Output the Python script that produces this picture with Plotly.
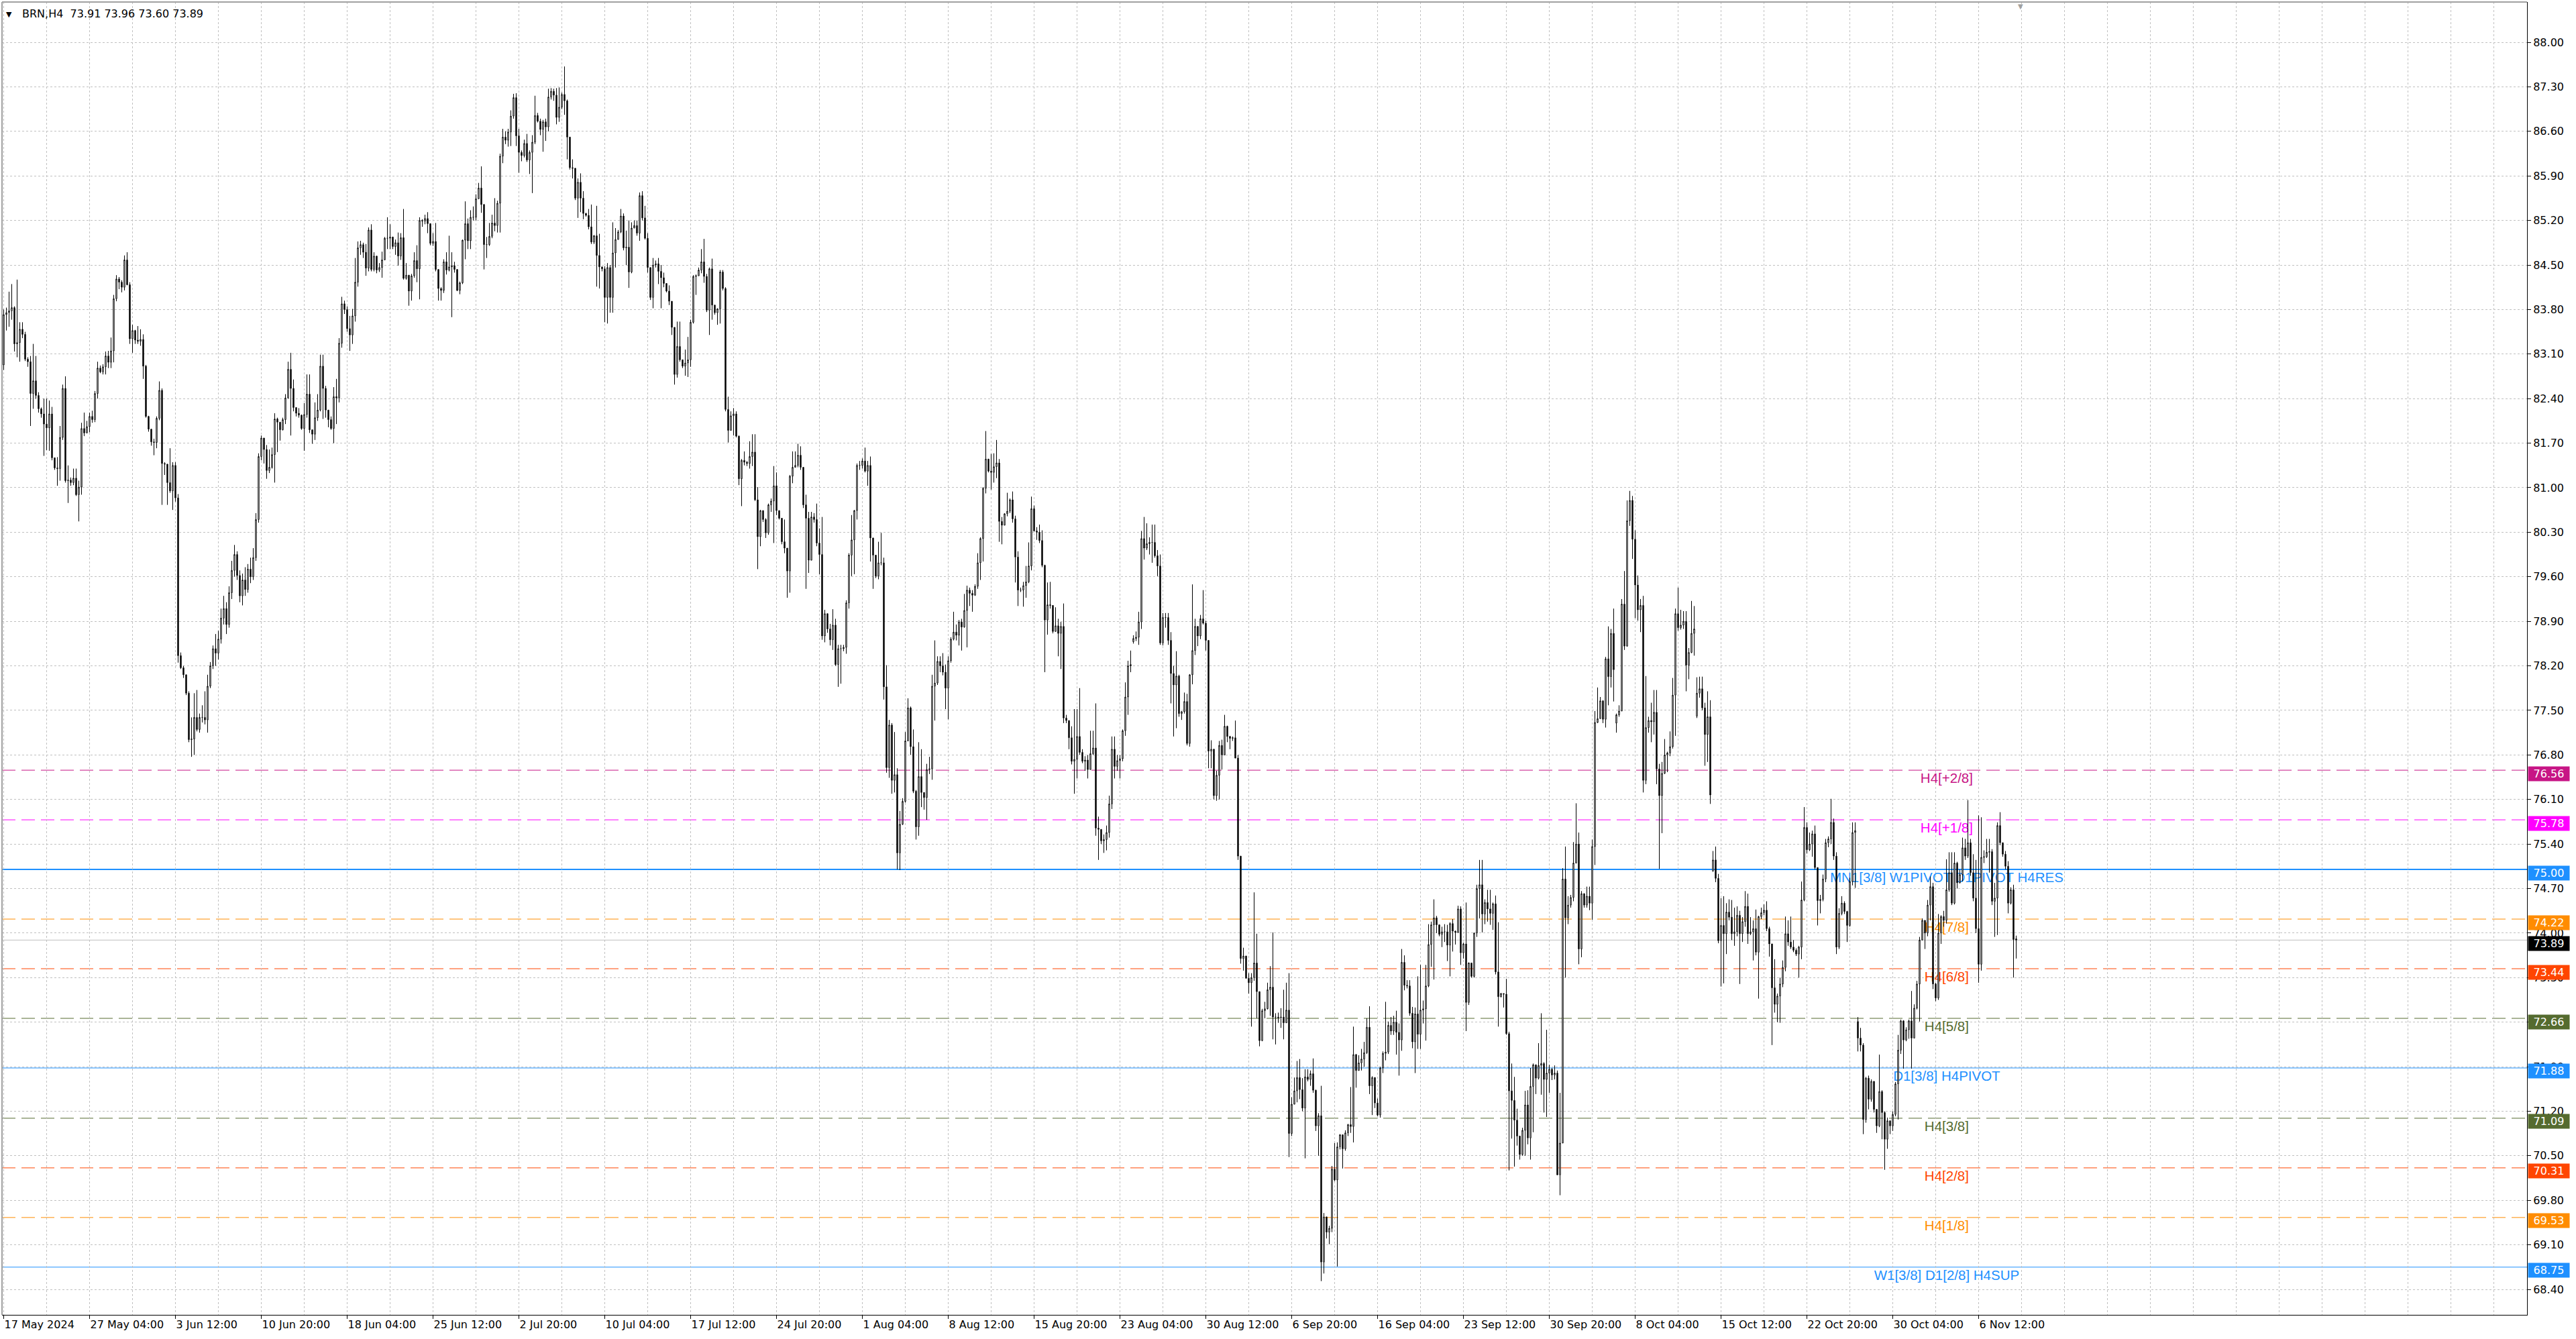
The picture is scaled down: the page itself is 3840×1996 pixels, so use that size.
import plotly.graph_objects as go

# ---------------- data (BRN H4) ----------------
symbol = "BRN,H4"
first_open = 82.93
gap_opens = {421: 78.58, 601: 77.30, 631: 77.41, 637: 74.98, 691: 72.61, 750: 73.91}

closes = [
    83.72, 83.75, 83.78, 83.83, 83.26, 83.28, 83.49, 83.41, 83.02, 82.98,
    82.48, 82.68, 82.45, 82.24, 82.16, 82.00, 81.94, 82.16, 81.47, 81.31,
    81.30, 81.79, 82.56, 81.11, 81.12, 81.08, 81.15, 80.89, 81.01, 81.93,
    81.86, 81.96, 82.12, 82.07, 82.48, 82.88, 82.82, 82.90, 83.07, 82.97,
    83.15, 83.97, 84.28, 84.23, 84.15, 84.58, 84.19, 83.34, 83.47, 83.32,
    83.30, 83.33, 82.91, 82.12, 81.92, 81.72, 81.71, 82.09, 82.53, 81.38,
    81.37, 81.08, 80.95, 81.35, 80.84, 78.36, 78.17, 78.06, 77.77, 77.04,
    77.05, 77.39, 77.20, 77.39, 77.39, 77.35, 77.88, 78.20, 78.47, 78.40,
    78.62, 78.95, 79.10, 78.85, 79.35, 79.70, 79.95, 79.62, 79.30, 79.55,
    79.40, 79.72, 79.60, 79.90, 80.50, 81.49, 81.78, 81.60, 81.27, 81.32,
    81.52, 82.08, 82.03, 81.91, 82.07, 82.41, 82.86, 82.56, 82.26, 82.17,
    82.14, 81.93, 82.15, 82.47, 81.91, 81.84, 82.10, 82.22, 82.91, 82.56,
    82.22, 82.07, 81.93, 82.43, 82.41, 83.27, 83.89, 83.80, 83.50, 83.40,
    83.70, 84.23, 84.77, 84.82, 84.70, 84.45, 85.05, 84.43, 84.64, 84.42,
    84.46, 84.58, 84.92, 84.92, 84.94, 84.79, 84.85, 84.64, 84.93, 84.29,
    84.34, 84.09, 84.33, 84.57, 84.44, 85.20, 85.19, 85.23, 85.15, 84.84,
    84.87, 84.43, 84.13, 84.10, 84.55, 84.42, 84.47, 84.49, 84.43, 84.10,
    84.22, 84.89, 85.15, 84.88, 85.25, 85.25, 85.54, 85.71, 85.45, 84.82,
    84.82, 84.95, 85.16, 85.12, 85.47, 86.21, 86.51, 86.46, 86.59, 86.84,
    87.13, 86.53, 86.27, 86.22, 86.41, 86.15, 86.27, 86.43, 86.85, 86.76,
    86.63, 86.75, 86.67, 87.14, 87.23, 87.17, 86.82, 86.98, 87.18, 87.08,
    86.51, 86.03, 86.02, 85.55, 85.80, 85.55, 85.31, 85.28, 85.10, 84.86,
    84.96, 84.65, 84.47, 84.44, 83.99, 84.46, 83.99, 84.69, 84.90, 85.02,
    85.27, 84.77, 84.78, 84.39, 85.08, 85.12, 85.00, 85.59, 85.24, 84.92,
    84.46, 83.99, 84.50, 84.52, 84.40, 84.30, 84.21, 84.09, 83.93, 83.52,
    82.78, 83.22, 83.01, 82.91, 82.96, 83.01, 83.60, 84.32, 84.33, 84.42,
    84.55, 84.32, 83.79, 84.44, 83.87, 83.75, 83.81, 84.39, 84.13, 82.23,
    81.90, 82.13, 82.16, 81.81, 81.14, 81.43, 81.40, 81.38, 81.49, 81.56,
    80.81, 80.23, 80.64, 80.50, 80.29, 80.73, 80.79, 81.03, 80.64, 80.52,
    80.15, 80.05, 79.69, 81.18, 81.32, 81.35, 81.51, 81.32, 80.73, 80.52,
    79.86, 80.54, 80.50, 80.13, 79.95, 78.67, 79.02, 78.78, 78.61, 78.84,
    78.22, 78.47, 78.47, 78.49, 79.19, 79.94, 80.18, 80.64, 81.35, 81.35,
    81.42, 81.26, 81.35, 80.21, 79.94, 79.61, 79.82, 79.82, 77.87, 76.60,
    77.27, 76.40, 76.49, 75.26, 75.71, 76.07, 77.02, 77.54, 76.93, 76.23,
    75.67, 76.46, 76.21, 76.13, 76.57, 76.58, 77.88, 77.93, 78.27, 78.20,
    78.10, 77.85, 78.28, 78.62, 78.73, 78.68, 78.89, 78.81, 79.07, 79.39,
    79.34, 79.31, 79.45, 79.82, 80.20, 80.99, 81.45, 81.26, 81.24, 81.33,
    81.39, 80.47, 80.41, 80.59, 80.63, 80.81, 80.51, 79.91, 79.39, 79.39,
    79.46, 79.52, 79.77, 80.67, 80.32, 80.30, 80.17, 79.78, 78.92, 79.16,
    79.15, 78.74, 78.83, 78.71, 78.82, 77.38, 77.34, 77.07, 76.70, 76.73,
    77.09, 76.84, 76.70, 76.72, 76.57, 76.82, 76.91, 75.65, 75.63, 75.45,
    75.47, 75.58, 76.03, 76.89, 76.62, 76.71, 76.74, 77.18, 77.71, 78.20,
    78.22, 78.63, 78.65, 78.89, 80.20, 80.05, 80.12, 80.14, 80.14, 79.93,
    79.77, 78.56, 78.96, 78.96, 78.60, 78.08, 77.90, 78.04, 77.45, 77.48,
    77.64, 76.98, 78.06, 78.44, 78.82, 78.67, 78.94, 78.87, 78.60, 76.86,
    76.89, 76.16, 76.48, 76.95, 76.80, 77.25, 77.09, 77.06, 77.07, 76.75,
    75.21, 73.60, 73.64, 73.29, 73.22, 73.30, 73.53, 73.08, 72.31, 72.78,
    72.81, 73.11, 73.15, 72.68, 72.68, 72.67, 72.68, 72.59, 72.79, 70.85,
    71.31, 71.52, 71.73, 71.54, 71.25, 71.74, 71.70, 71.79, 71.53, 70.97,
    71.13, 68.83, 69.54, 69.30, 69.36, 70.29, 70.12, 70.64, 70.83, 70.61,
    70.86, 70.99, 70.96, 72.09, 71.84, 71.96, 72.02, 72.12, 72.52, 71.60,
    71.73, 71.33, 71.14, 71.88, 72.11, 72.13, 72.55, 72.46, 72.60, 72.44,
    72.32, 73.54, 73.18, 73.17, 72.74, 72.29, 72.73, 72.41, 72.79, 72.81,
    73.17, 73.82, 74.13, 74.24, 74.13, 73.98, 74.02, 74.02, 73.81, 74.15,
    74.03, 74.01, 74.38, 73.69, 73.83, 72.91, 73.53, 73.32, 74.00, 74.70,
    74.76, 74.30, 74.48, 74.38, 74.31, 74.46, 73.39, 73.00, 73.05, 73.04,
    72.42, 71.52, 71.37, 71.06, 70.81, 70.52, 70.90, 71.30, 70.78, 71.59,
    71.93, 71.72, 71.92, 71.95, 71.70, 71.80, 71.86, 71.77, 71.80, 70.20,
    70.70, 74.85, 74.24, 74.44, 74.56, 75.10, 75.40, 73.75, 74.62, 74.44,
    74.58, 74.47, 75.36, 77.31, 77.37, 77.65, 77.36, 78.31, 78.03, 78.71,
    78.14, 77.43, 77.49, 79.17, 78.51, 80.48, 80.80, 80.19, 79.47, 79.08,
    79.15, 76.40, 77.23, 77.34, 77.32, 77.47, 76.58, 76.16, 76.51, 76.80,
    76.83, 76.93, 77.74, 79.02, 78.80, 78.84, 78.90, 78.21, 78.41, 78.71,
    78.78, 77.77, 77.84, 77.54, 77.12, 77.40, 76.17, 75.15, 74.86, 73.88,
    74.12, 73.99, 74.33, 74.25, 73.99, 74.02, 74.28, 73.99, 74.18, 74.42,
    73.99, 74.02, 74.07, 73.70, 74.26, 74.32, 74.36, 74.07, 73.83, 73.14,
    72.88, 73.01, 73.20, 73.46, 73.99, 73.86, 73.78, 73.73, 73.67, 73.78,
    74.52, 75.66, 75.31, 75.40, 75.56, 75.03, 74.51, 74.53, 74.85, 75.42,
    75.48, 75.74, 75.21, 73.78, 74.31, 74.47, 74.34, 74.12, 74.81, 75.58,
    75.61, 72.35, 72.24, 71.07, 71.72, 71.39, 71.67, 71.23, 70.97, 71.51,
    71.18, 70.76, 71.05, 70.97, 71.15, 71.63, 72.16, 72.62, 72.32, 72.48,
    72.62, 72.35, 72.82, 73.20, 73.89, 74.20, 74.00, 74.44, 74.73, 73.20,
    72.98, 74.00, 74.26, 74.20, 74.68, 74.95, 74.47, 75.10, 74.79, 74.92,
    75.34, 75.21, 75.42, 74.95, 74.55, 74.07, 73.51, 75.19, 75.20, 75.27,
    75.28, 74.50, 74.55, 75.69, 75.42, 75.24, 75.05, 74.47, 74.68, 73.90,
    73.89,
]

highs = [
    83.80, 83.83, 84.08, 84.20, 83.85, 84.27, 83.60, 83.60, 83.45, 83.05,
    83.07, 83.26, 83.07, 82.50, 82.26, 82.40, 82.40, 82.37, 82.27, 81.45,
    81.48, 81.97, 82.62, 82.75, 81.35, 81.16, 81.30, 81.30, 81.11, 82.02,
    82.18, 82.05, 82.18, 82.21, 82.52, 82.98, 82.92, 82.94, 83.14, 83.15,
    83.36, 84.03, 84.34, 84.31, 84.26, 84.65, 84.70, 84.23, 83.56, 83.48,
    83.54, 83.49, 83.41, 82.93, 82.13, 81.78, 81.77, 82.12, 82.67, 82.56,
    81.40, 81.11, 81.62, 81.40, 81.40, 80.90, 78.41, 78.20, 78.04, 77.80,
    77.39, 77.77, 77.82, 77.45, 77.58, 77.80, 78.06, 78.26, 78.52, 78.70,
    78.75, 79.10, 79.30, 79.20, 79.45, 79.85, 80.10, 80.00, 79.70, 79.65,
    79.75, 79.80, 79.90, 80.05, 80.60, 81.54, 81.82, 81.75, 81.67, 81.60,
    81.63, 82.17, 82.10, 81.96, 82.10, 82.47, 82.98, 83.12, 82.70, 82.25,
    82.25, 82.15, 82.33, 82.78, 82.78, 81.90, 82.34, 82.47, 83.09, 83.09,
    82.60, 82.15, 82.12, 82.58, 82.71, 83.35, 84.00, 83.94, 83.85, 83.70,
    83.81, 84.61, 84.87, 84.88, 84.85, 84.83, 85.09, 85.14, 84.70, 84.57,
    84.53, 84.71, 84.94, 85.25, 85.14, 84.88, 84.90, 85.01, 85.00, 85.38,
    84.53, 84.13, 84.36, 84.70, 84.81, 85.25, 85.22, 85.29, 85.33, 85.15,
    85.00, 85.16, 84.43, 84.15, 84.59, 84.70, 84.96, 84.70, 84.55, 84.18,
    84.24, 84.90, 85.50, 85.23, 85.36, 85.42, 85.61, 85.79, 86.05, 85.46,
    84.94, 85.16, 85.29, 85.55, 85.51, 86.25, 86.64, 86.60, 86.64, 86.93,
    87.19, 87.20, 86.64, 86.30, 86.47, 86.56, 86.30, 86.54, 87.16, 86.89,
    86.80, 86.78, 86.80, 87.27, 87.28, 87.27, 87.28, 87.29, 87.21, 87.62,
    87.10, 86.37, 86.16, 86.02, 85.86, 85.94, 85.66, 85.32, 85.38, 85.45,
    84.97, 85.43, 84.99, 84.47, 84.48, 84.53, 84.50, 85.17, 85.08, 85.05,
    85.38, 85.31, 85.04, 85.20, 85.17, 85.20, 85.20, 85.64, 85.66, 85.43,
    85.00, 84.44, 84.61, 84.57, 84.61, 84.50, 84.38, 84.13, 84.18, 83.91,
    83.51, 83.61, 83.61, 83.01, 83.17, 83.37, 83.64, 84.34, 84.35, 84.46,
    84.75, 84.91, 84.36, 84.46, 84.60, 83.84, 83.82, 84.42, 84.42, 84.15,
    82.43, 82.20, 82.25, 82.20, 81.82, 81.45, 81.57, 81.42, 81.73, 81.84,
    81.84, 81.01, 80.65, 80.55, 80.52, 80.75, 80.83, 81.34, 81.24, 80.64,
    80.52, 80.50, 80.05, 81.20, 81.57, 81.57, 81.69, 81.65, 81.30, 80.89,
    80.62, 80.62, 80.60, 80.75, 80.36, 80.54, 79.08, 78.85, 78.86, 79.09,
    78.94, 78.53, 78.53, 78.53, 79.23, 79.97, 80.57, 80.65, 81.38, 81.42,
    81.46, 81.63, 81.42, 81.49, 80.20, 79.80, 80.15, 80.29, 79.90, 78.21,
    77.35, 77.30, 77.16, 76.59, 75.92, 76.12, 77.16, 77.69, 77.56, 77.20,
    76.25, 77.00, 76.89, 76.21, 76.66, 76.77, 78.06, 78.60, 78.35, 78.35,
    78.40, 78.22, 78.35, 78.65, 79.05, 78.85, 78.92, 78.94, 79.33, 79.46,
    79.43, 79.39, 79.48, 79.97, 80.22, 81.01, 81.89, 81.39, 81.53, 81.54,
    81.75, 81.45, 80.54, 80.60, 80.92, 80.83, 80.94, 80.56, 80.00, 79.43,
    79.52, 79.77, 80.14, 80.86, 80.72, 80.38, 80.42, 80.33, 79.79, 79.51,
    79.52, 78.91, 79.12, 78.94, 78.89, 79.18, 77.43, 77.34, 77.25, 77.52,
    77.52, 77.85, 76.89, 76.78, 76.80, 77.18, 77.18, 77.61, 75.83, 75.60,
    75.55, 75.69, 76.16, 77.09, 77.09, 76.80, 76.80, 77.20, 77.94, 78.28,
    78.44, 78.68, 78.74, 79.05, 80.32, 80.54, 80.44, 80.22, 80.42, 80.42,
    80.02, 79.95, 79.03, 79.03, 79.03, 78.73, 78.20, 78.43, 78.06, 77.49,
    77.78, 77.76, 78.07, 79.48, 78.94, 78.82, 79.00, 79.39, 78.91, 78.60,
    77.03, 76.89, 76.55, 77.02, 77.04, 77.43, 77.26, 77.10, 77.09, 77.34,
    76.80, 75.20, 73.77, 73.60, 73.37, 73.37, 74.64, 73.99, 73.08, 72.81,
    72.92, 73.22, 73.48, 74.01, 72.74, 72.75, 72.82, 73.11, 73.22, 73.37,
    71.42, 71.73, 71.99, 72.02, 71.72, 71.86, 71.86, 71.84, 72.03, 71.54,
    71.17, 71.60, 69.60, 69.54, 69.40, 70.34, 70.70, 70.71, 70.84, 70.65,
    70.90, 71.00, 71.58, 72.53, 72.10, 72.08, 72.18, 72.29, 72.66, 72.85,
    71.75, 71.41, 71.40, 71.90, 72.14, 72.92, 72.61, 72.68, 72.70, 72.78,
    72.58, 73.75, 73.65, 73.26, 73.26, 72.84, 72.83, 73.32, 73.50, 72.94,
    73.50, 74.14, 74.18, 74.53, 74.27, 74.10, 74.10, 74.14, 74.13, 74.17,
    74.22, 74.04, 74.43, 74.42, 73.85, 74.48, 73.54, 73.47, 74.01, 74.76,
    75.15, 75.15, 74.53, 74.68, 74.68, 74.48, 74.59, 74.17, 73.06, 73.05,
    73.28, 72.45, 71.95, 71.74, 71.24, 70.81, 70.94, 71.52, 71.53, 71.88,
    71.95, 71.90, 72.27, 72.74, 71.97, 72.48, 71.93, 71.88, 71.92, 71.84,
    71.49, 75.02, 75.36, 74.58, 74.60, 75.43, 76.04, 75.58, 74.66, 74.50,
    74.73, 74.73, 75.47, 77.49, 77.86, 77.71, 77.66, 78.34, 78.82, 78.78,
    79.10, 77.45, 77.58, 79.25, 79.69, 80.80, 80.95, 80.87, 80.33, 79.62,
    79.25, 79.30, 78.04, 77.40, 77.62, 77.82, 77.82, 76.66, 76.69, 77.05,
    76.85, 77.17, 78.01, 79.10, 79.43, 79.08, 79.06, 79.06, 78.48, 79.22,
    79.14, 78.02, 78.03, 78.03, 77.62, 77.80, 77.66, 75.29, 75.36, 74.93,
    74.55, 74.58, 74.47, 74.53, 74.52, 74.40, 74.42, 74.35, 74.25, 74.66,
    74.62, 74.25, 74.20, 74.37, 74.27, 74.40, 74.45, 74.50, 74.10, 73.83,
    73.59, 73.05, 73.30, 73.57, 74.26, 74.20, 74.26, 73.89, 73.76, 73.80,
    74.81, 75.98, 75.74, 75.58, 75.61, 75.69, 75.03, 74.60, 74.92, 75.48,
    75.52, 76.11, 75.80, 75.27, 74.39, 74.58, 74.50, 74.35, 74.87, 75.74,
    75.74, 72.68, 72.51, 72.27, 71.74, 71.76, 71.70, 71.63, 71.23, 72.09,
    71.53, 71.20, 71.10, 71.05, 71.20, 71.66, 72.40, 72.64, 72.63, 72.52,
    72.64, 73.09, 72.88, 73.25, 73.94, 74.23, 74.20, 74.52, 74.89, 74.79,
    73.22, 74.30, 74.28, 74.35, 75.16, 75.27, 75.27, 75.27, 75.12, 75.00,
    75.50, 75.48, 76.09, 75.48, 75.24, 75.15, 75.85, 75.82, 75.30, 75.48,
    75.48, 75.32, 74.79, 75.74, 75.90, 75.40, 75.29, 75.13, 74.72, 74.76,
    73.96,
]

lows = [
    82.85, 83.47, 83.53, 83.64, 83.14, 83.05, 82.98, 83.35, 82.99, 82.90,
    81.97, 82.24, 82.40, 82.18, 82.10, 81.50, 81.59, 81.58, 81.43, 81.28,
    81.03, 81.11, 81.75, 81.08, 80.76, 81.03, 81.04, 80.87, 80.47, 80.89,
    81.81, 81.87, 81.87, 82.02, 82.03, 82.40, 82.80, 82.78, 82.78, 82.88,
    82.88, 82.97, 83.93, 84.12, 84.07, 84.10, 84.18, 83.26, 83.12, 83.26,
    83.26, 83.23, 82.71, 82.10, 81.88, 81.66, 81.51, 81.62, 82.06, 80.73,
    81.20, 80.73, 80.92, 80.65, 80.78, 78.25, 78.15, 78.01, 77.74, 77.00,
    76.77, 76.80, 77.17, 77.15, 77.31, 77.28, 77.15, 77.85, 78.15, 78.20,
    78.30, 78.55, 78.85, 78.70, 78.80, 79.25, 79.60, 79.55, 79.20, 79.15,
    79.30, 79.35, 79.50, 79.55, 79.85, 80.45, 81.43, 81.38, 81.14, 81.23,
    81.30, 81.08, 81.56, 81.74, 81.90, 82.00, 82.40, 81.82, 82.20, 82.12,
    82.10, 81.91, 81.58, 82.10, 81.86, 81.69, 81.75, 82.05, 82.20, 82.08,
    82.10, 81.95, 81.91, 81.70, 82.00, 82.34, 83.20, 83.73, 83.45, 83.15,
    83.26, 83.61, 84.16, 84.66, 84.61, 84.33, 84.40, 84.40, 84.40, 84.37,
    84.39, 84.30, 84.58, 84.75, 84.75, 84.75, 84.66, 84.49, 84.58, 84.27,
    84.27, 83.86, 83.94, 84.30, 84.23, 83.96, 85.10, 85.14, 85.00, 84.81,
    84.80, 84.40, 83.94, 83.94, 84.06, 84.35, 84.40, 83.68, 84.38, 84.09,
    84.04, 84.20, 84.59, 84.75, 84.75, 85.20, 85.20, 85.60, 85.32, 84.43,
    84.61, 84.80, 84.92, 85.03, 85.01, 85.01, 86.10, 86.40, 86.36, 86.37,
    86.80, 86.37, 85.95, 86.13, 86.19, 86.12, 85.93, 85.63, 86.40, 86.74,
    86.54, 86.28, 86.45, 86.60, 87.10, 87.08, 86.71, 86.75, 86.95, 86.86,
    86.16, 86.00, 85.86, 85.52, 85.24, 85.33, 85.22, 85.26, 85.06, 84.83,
    84.83, 84.16, 84.13, 84.40, 83.60, 83.58, 83.75, 83.75, 84.46, 84.95,
    85.00, 84.73, 84.50, 84.14, 84.37, 85.08, 84.96, 84.88, 85.20, 84.90,
    84.38, 83.95, 83.82, 84.46, 84.20, 83.82, 84.15, 84.07, 83.87, 83.40,
    82.62, 82.73, 82.98, 82.88, 82.76, 82.74, 82.90, 83.58, 84.03, 84.36,
    84.37, 84.22, 83.76, 83.40, 83.64, 83.72, 83.56, 83.58, 84.10, 82.20,
    81.71, 82.04, 81.82, 81.79, 81.04, 80.71, 81.35, 81.34, 81.30, 81.34,
    80.79, 79.72, 80.08, 80.46, 80.21, 80.26, 80.62, 80.13, 80.57, 80.50,
    80.11, 79.97, 79.27, 79.35, 81.07, 81.33, 81.32, 81.28, 80.68, 79.41,
    79.66, 80.31, 80.45, 80.08, 79.64, 78.61, 78.57, 78.72, 78.52, 78.45,
    78.20, 77.87, 77.92, 78.43, 78.39, 79.10, 79.61, 79.64, 80.50, 81.28,
    81.30, 81.24, 81.03, 79.84, 79.41, 79.58, 79.56, 79.78, 77.67, 76.52,
    76.44, 76.19, 76.21, 75.00, 74.99, 75.70, 76.05, 77.10, 76.80, 76.20,
    75.47, 75.53, 75.98, 75.94, 75.78, 76.50, 76.41, 77.34, 77.90, 78.10,
    78.05, 77.52, 77.36, 78.25, 78.60, 78.60, 78.52, 78.44, 78.80, 78.49,
    79.14, 79.05, 79.30, 79.41, 79.55, 79.84, 80.91, 81.24, 80.97, 81.08,
    81.15, 80.15, 80.11, 80.42, 80.55, 80.60, 80.45, 79.51, 79.14, 79.36,
    79.13, 79.27, 79.50, 79.70, 80.31, 80.18, 80.13, 79.75, 78.10, 78.69,
    79.10, 78.71, 78.74, 78.35, 78.15, 77.30, 77.30, 76.89, 76.65, 76.19,
    76.43, 76.80, 76.67, 76.55, 76.43, 76.57, 76.80, 75.53, 75.15, 75.40,
    75.26, 75.30, 75.50, 75.95, 76.43, 76.55, 76.43, 76.70, 77.10, 77.43,
    78.10, 78.55, 78.59, 78.53, 78.78, 79.87, 80.02, 79.95, 79.82, 79.90,
    79.61, 78.53, 78.52, 78.80, 78.53, 77.61, 77.09, 77.22, 77.40, 77.35,
    77.45, 76.95, 76.93, 77.91, 78.37, 78.51, 78.62, 78.85, 78.44, 76.59,
    76.59, 76.10, 76.08, 76.10, 76.57, 76.80, 77.00, 76.89, 77.02, 76.75,
    75.15, 73.52, 73.41, 73.29, 73.05, 72.53, 73.25, 72.66, 72.22, 72.30,
    72.66, 72.80, 72.70, 72.33, 72.25, 72.59, 72.51, 72.33, 72.59, 70.48,
    70.81, 71.37, 71.34, 71.39, 71.20, 70.46, 71.67, 71.60, 71.49, 70.89,
    70.50, 68.53, 68.65, 69.20, 69.11, 69.30, 70.10, 68.76, 70.60, 70.30,
    70.58, 70.81, 70.86, 70.71, 71.57, 71.84, 71.84, 71.90, 72.10, 71.47,
    71.14, 71.25, 71.12, 71.10, 71.80, 72.00, 72.10, 72.40, 72.40, 72.09,
    71.76, 72.15, 73.10, 73.13, 72.70, 72.19, 71.80, 72.18, 72.18, 72.58,
    72.31, 73.15, 73.47, 73.27, 74.00, 73.95, 73.78, 73.86, 73.56, 73.32,
    73.71, 73.82, 74.00, 73.50, 73.60, 72.46, 72.87, 73.30, 73.30, 73.94,
    74.23, 74.01, 74.14, 74.18, 74.13, 74.05, 73.35, 72.53, 72.99, 72.83,
    72.40, 70.27, 70.77, 70.33, 70.66, 70.44, 70.50, 70.50, 70.68, 70.44,
    70.87, 71.47, 71.70, 71.46, 71.18, 71.11, 71.49, 71.69, 71.70, 70.20,
    69.88, 70.70, 73.30, 74.14, 74.40, 74.50, 75.10, 73.51, 73.62, 74.40,
    74.40, 74.36, 74.21, 75.07, 77.30, 77.43, 77.30, 77.23, 77.58, 77.86,
    77.64, 77.15, 77.40, 77.50, 78.45, 78.50, 80.40, 79.88, 78.95, 78.91,
    78.73, 76.21, 76.34, 77.15, 77.00, 77.12, 76.34, 75.01, 75.57, 76.50,
    76.53, 76.78, 76.90, 77.10, 78.75, 78.77, 78.78, 77.80, 77.99, 78.40,
    78.36, 77.38, 77.70, 77.50, 76.63, 76.69, 76.03, 74.96, 74.80, 73.84,
    73.16, 73.21, 73.67, 74.20, 73.89, 73.80, 73.95, 73.20, 73.86, 74.10,
    73.83, 73.97, 73.57, 73.65, 72.97, 74.22, 74.28, 74.03, 73.63, 72.24,
    72.75, 72.60, 72.59, 73.15, 73.40, 73.80, 73.75, 73.70, 73.64, 73.30,
    73.59, 74.50, 75.25, 75.29, 75.20, 75.00, 74.12, 74.31, 74.50, 74.80,
    75.35, 75.40, 75.15, 73.67, 73.75, 74.28, 74.30, 73.86, 74.10, 74.75,
    74.71, 72.14, 72.14, 70.84, 71.02, 71.23, 71.35, 71.18, 70.86, 70.95,
    70.76, 70.28, 70.61, 70.84, 70.89, 71.12, 71.07, 72.10, 71.87, 72.30,
    72.34, 71.87, 72.40, 72.80, 72.61, 73.89, 73.75, 73.95, 74.20, 73.12,
    72.93, 72.95, 73.83, 74.10, 74.15, 74.65, 74.44, 74.45, 74.70, 74.78,
    74.81, 75.15, 75.18, 74.90, 74.50, 74.00, 73.22, 73.41, 75.10, 75.18,
    74.95, 74.44, 73.94, 73.97, 75.38, 75.20, 75.00, 74.31, 74.45, 73.30,
    73.60,
]

x_labels = ["17 May 2024", "27 May 04:00", "3 Jun 12:00", "10 Jun 20:00", "18 Jun 04:00",
            "25 Jun 12:00", "2 Jul 20:00", "10 Jul 04:00", "17 Jul 12:00", "24 Jul 20:00",
            "1 Aug 04:00", "8 Aug 12:00", "15 Aug 20:00", "23 Aug 04:00", "30 Aug 12:00",
            "6 Sep 20:00", "16 Sep 04:00", "23 Sep 12:00", "30 Sep 20:00", "8 Oct 04:00",
            "15 Oct 12:00", "22 Oct 20:00", "30 Oct 04:00", "6 Nov 12:00"]
bars_per_label = 32

y_ticks = [68.40, 69.10, 69.80, 70.50, 71.20, 71.90, 72.60, 73.30, 74.00, 74.70,
           75.40, 76.10, 76.80, 77.50, 78.20, 78.90, 79.60, 80.30, 81.00, 81.70,
           82.40, 83.10, 83.80, 84.50, 85.20, 85.90, 86.60, 87.30, 88.00]

level_prices = [76.56, 75.78, 75.00, 74.22, 73.44, 72.66, 71.88, 71.09, 70.31, 69.53, 68.75]
level_names = ["H4[+2/8]", "H4[+1/8]", "MN1[3/8] W1PIVOT D1PIVOT H4RES", "H4[7/8]", "H4[6/8]",
               "H4[5/8]", "D1[3/8] H4PIVOT", "H4[3/8]", "H4[2/8]", "H4[1/8]",
               "W1[3/8] D1[2/8] H4SUP"]
level_colors = ["#C71585", "#FF00FF", "#1E90FF", "#FF8C00", "#FF4500", "#556B2F",
                "#1E90FF", "#556B2F", "#FF4500", "#FF8C00", "#1E90FF"]
level_dashed = [True, True, False, True, True, True, False, True, True, True, False]
level_widths = [1, 1, 2, 1, 1, 1, 1, 1, 1, 1, 1]

bid_price = 73.89
last_ohlc = "73.91 73.96 73.60 73.89"

# ---------------- build OHLC ----------------
n = len(closes)
opens = []
for i in range(n):
    if i == 0:
        opens.append(first_open)
    elif i in gap_opens:
        opens.append(gap_opens[i])
    else:
        opens.append(closes[i - 1])
hi = [max(h, o, c) for h, o, c in zip(highs, opens, closes)]
lo = [min(l, o, c) for l, o, c in zip(lows, opens, closes)]
xs = list(range(n))

W, H = 3840, 1996
ML, MR, MT, MB = 3, 73, 3, 36
X_RANGE = [-0.625, 940.375]   # 4 px per bar, bar centres on half pixels
Y_RANGE = [68.0, 88.633]
LABEL_X = 724.1
LABEL_LIFT = 0.028
TAG_SHIFT = -5
GRID = "#C0C0C0"
AXFONT = "DejaVu Sans"

fig = go.Figure()
fig.add_trace(go.Candlestick(
    x=xs, open=opens, high=hi, low=lo, close=closes,
    increasing=dict(line=dict(color="black", width=1), fillcolor="white"),
    decreasing=dict(line=dict(color="black", width=1), fillcolor="black"),
    whiskerwidth=0, hoverinfo="skip", showlegend=False,
))

shapes = []
annotations = []

# level lines + their text labels (drawn beneath candles)
for p, name, col, dashed, lw in zip(level_prices, level_names, level_colors, level_dashed, level_widths):
    shapes.append(dict(type="line", xref="paper", x0=0, x1=1, yref="y", y0=p, y1=p,
                       line=dict(color=col, width=lw, dash="20px,9px" if dashed else "solid"),
                       layer="between"))
    shapes.append(dict(type="rect", xref="x", x0=LABEL_X - 70, x1=LABEL_X + 70,
                       yref="y", y0=p - 0.4, y1=p + LABEL_LIFT, line=dict(width=0),
                       fillcolor="rgba(0,0,0,0)", layer="between",
                       label=dict(text=name, textposition="top center", padding=1,
                                  font=dict(family="Liberation Sans", size=20.5, color=col))))
    annotations.append(dict(xref="paper", x=1, xanchor="left", xshift=1, yref="y", y=p,
                            yanchor="middle", yshift=TAG_SHIFT, text=f"{p:.2f}", showarrow=False,
                            bgcolor=col, width=59, height=19, borderpad=1,
                            font=dict(family=AXFONT, size=16, color="white")))

# bid line
shapes.append(dict(type="line", xref="paper", x0=0, x1=1, yref="y", y0=bid_price, y1=bid_price,
                   line=dict(color="#C0C0C0", width=1), layer="between"))
annotations.append(dict(xref="paper", x=1, xanchor="left", xshift=1, yref="y", y=bid_price,
                        yanchor="middle", yshift=TAG_SHIFT, text=f"{bid_price:.2f}", showarrow=False,
                        bgcolor="black", width=59, height=19, borderpad=1,
                        font=dict(family=AXFONT, size=16, color="white")))

# window border (top / left)
shapes.append(dict(type="line", xref="paper", yref="paper", x0=0, x1=1, y0=1, y1=1,
                   line=dict(color="#A0A0A0", width=2), layer="above"))
shapes.append(dict(type="line", xref="paper", yref="paper", x0=0, x1=0, y0=0, y1=1,
                   line=dict(color="#A0A0A0", width=2), layer="above"))

# header
annotations.append(dict(xref="paper", yref="paper", x=0, y=1, xanchor="left", yanchor="top",
                        xshift=4, yshift=-10, text="\u25BC", showarrow=False,
                        font=dict(family=AXFONT, size=11, color="black")))
annotations.append(dict(xref="paper", yref="paper", x=0, y=1, xanchor="left", yanchor="top",
                        xshift=28, yshift=-6, text=symbol + "\u00a0\u00a0" + last_ohlc,
                        showarrow=False, font=dict(family=AXFONT, size=16, color="black")))
# chart-shift marker
annotations.append(dict(xref="x", yref="paper", x=751.6, y=1, xanchor="center", yanchor="top",
                        yshift=1, text="\u25BC", showarrow=False,
                        font=dict(family=AXFONT, size=10, color="#A0A0A0")))

fig.update_layout(
    width=W, height=H,
    margin=dict(l=ML, r=MR, t=MT, b=MB, pad=0),
    paper_bgcolor="white", plot_bgcolor="white",
    font=dict(family=AXFONT, size=16, color="black"),
    showlegend=False, boxgap=0.5,
    shapes=shapes, annotations=annotations,
    xaxis=dict(
        range=X_RANGE, rangeslider=dict(visible=False), automargin=False,
        tickmode="array", tickvals=[bars_per_label * i for i in range(len(x_labels))],
        ticktext=x_labels, ticks="outside", ticklen=5, tickcolor="black",
        ticklabelposition="outside right",
        tickfont=dict(family=AXFONT, size=16, color="black"),
        showgrid=True, gridcolor=GRID, griddash="3px,3px", gridwidth=1,
        minor=dict(tickvals=list(range(0, 941, 16)), showgrid=True, gridcolor=GRID,
                   griddash="3px,3px", gridwidth=1, ticks=""),
        showline=True, linecolor="black", linewidth=1, zeroline=False, fixedrange=True,
    ),
    yaxis=dict(
        side="right", range=Y_RANGE, automargin=False,
        tickmode="array", tickvals=y_ticks, ticktext=[f"{v:.2f}" for v in y_ticks],
        ticks="outside", ticklen=5, tickcolor="black",
        tickfont=dict(family=AXFONT, size=16, color="black"),
        showgrid=True, gridcolor=GRID, griddash="3px,3px", gridwidth=1,
        showline=True, linecolor="black", linewidth=1, zeroline=False, fixedrange=True,
    ),
)

fig.write_html("out.html", include_plotlyjs=True, config={"displayModeBar": False},
               post_script="document.body.style.margin='0';document.body.style.overflow='hidden';")
